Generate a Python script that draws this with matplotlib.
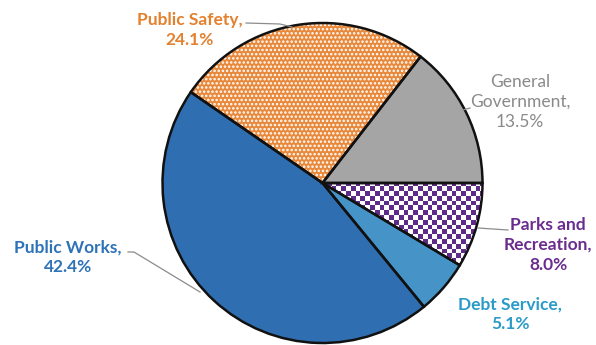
import numpy as np
import matplotlib
matplotlib.use("Agg")
import matplotlib.pyplot as plt
from matplotlib.colors import ListedColormap

# Data (percent of expenditures)
categories = ["General Government", "Public Safety", "Public Works", "Debt Service", "Parks and Recreation"]
values = [13.5, 24.1, 42.4, 5.1, 8.0]
label_texts = ["General\nGovernment,\n13.5%", "Public Safety,\n24.1%", "Public Works,\n42.4%",
               "Debt Service,\n5.1%", "Parks and\nRecreation,\n8.0%"]

face_colors = ["#A5A5A5", "#E8883A", "#2F6EB1", "#4593C7", "#FFFFFF"]
text_colors = ["#8A8A8A", "#E3812F", "#2E72B8", "#2A9AC8", "#6A2C8E"]
text_weights = ["normal", "bold", "bold", "bold", "bold"]

W, H = 596, 345
fig = plt.figure(figsize=(W / 100, H / 100), dpi=100)
ax = fig.add_axes([0, 0, 1, 1])

cx, cy, R = 322.5, H - 183, 160

plt.rcParams["hatch.linewidth"] = 1.2
wedges, _ = ax.pie(values, colors=face_colors, startangle=0, counterclock=True,
                   center=(cx, cy), radius=R, wedgeprops=dict(linewidth=0))

# Dotted pattern on Public Safety
wedges[1].set_hatch("....")
wedges[1].set_edgecolor("white")
wedges[1].set_linewidth(0)

# Checkerboard on Parks and Recreation
cell = 4.8
X, Y = np.meshgrid(np.arange(0, W, 1), np.arange(0, H, 1))
chk = ((np.floor(X / cell) + np.floor(Y / cell)) % 2).astype(float)
cmap = ListedColormap(["#FFFFFF", "#5E2B88"])
im = ax.imshow(chk, cmap=cmap, extent=(0, W, 0, H), origin="lower", interpolation="nearest", zorder=1.5)
im.set_clip_path(wedges[4])

# Outlines
ax.pie(values, startangle=0, counterclock=True, center=(cx, cy), radius=R,
       wedgeprops=dict(fill=False, edgecolor="#111111", linewidth=1.8, zorder=3))

# Labels
font = "Lato"
fs = 12.5
lab_pos = [(520, 102), (190, 30), (68, 257), (510, 314), (548, 245)]
for i, (x, y) in enumerate(lab_pos):
    ax.text(x, H - y, label_texts[i], ha="center", va="center", fontsize=fs,
            color=text_colors[i], fontweight=text_weights[i], family=font,
            linespacing=1.3, zorder=5)

# Leader lines (pixel coordinates from top)
leaders = [
    [(463, 110), (470, 108)],
    [(246, 23), (280, 24), (292, 27)],
    [(128, 252), (134, 252), (200, 292)],
    [(478, 228), (508, 230)],
]
for pts in leaders:
    px = [p[0] for p in pts]
    py = [H - p[1] for p in pts]
    ax.plot(px, py, color="#8C8C8C", linewidth=0.9, zorder=4)

ax.set_xlim(0, W)
ax.set_ylim(0, H)
ax.set_aspect("equal")
ax.axis("off")
fig.savefig("out.png", dpi=100)
